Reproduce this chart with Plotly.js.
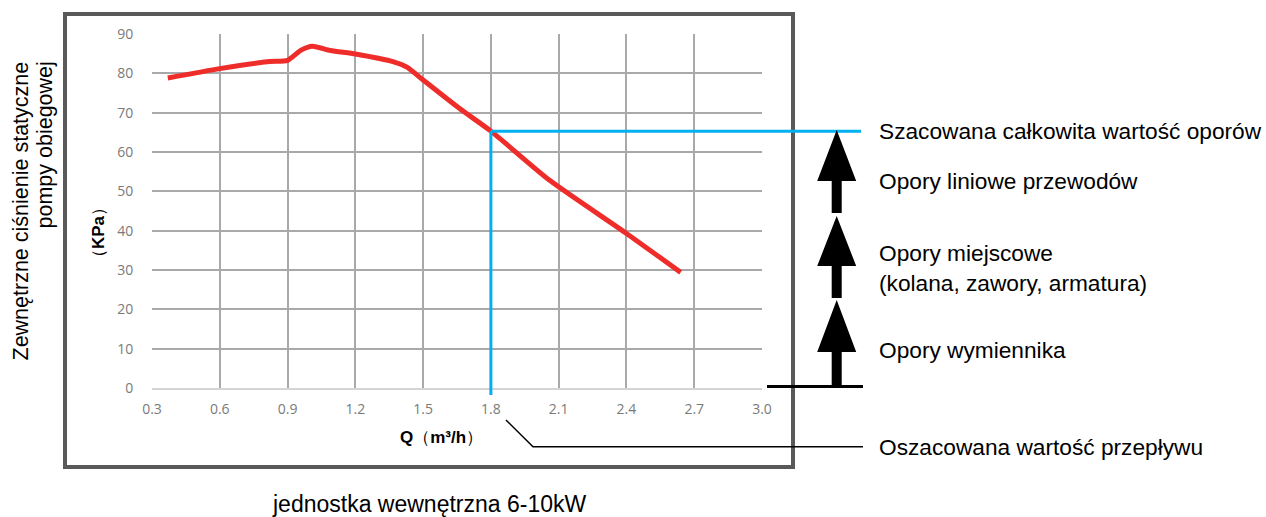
<!DOCTYPE html>
<html>
<head>
<meta charset="utf-8">
<script src="https://cdn.plot.ly/plotly-3.0.1.min.js"></script>
<style>
html,body{margin:0;padding:0;background:#fff;}
#chart{width:1266px;height:517px;}
</style>
</head>
<body>
<div id="chart"></div>
<script>
// ---- data ----
const flowQ = [0.37, 0.6, 0.82, 0.9, 0.96, 1.01, 1.09, 1.2, 1.37, 1.43, 1.5, 1.66, 1.8, 2.06, 2.4, 2.64];
const pressureKPa = [78.8, 81.2, 83.0, 83.3, 85.9, 86.9, 85.8, 84.9, 82.9, 81.5, 78.3, 71.1, 65.3, 52.8, 39.3, 29.4];
const xTickVals = [0.3, 0.6, 0.9, 1.2, 1.5, 1.8, 2.1, 2.4, 2.7, 3.0];
const xTickText = ["0.3", "0.6", "0.9", "1.2", "1.5", "1.8", "2.1", "2.4", "2.7", "3.0"];
const yTickVals = [0, 10, 20, 30, 40, 50, 60, 70, 80, 90];
const estimatedFlow = 1.8;
const estimatedResistance = 65.3;
const rightLabels = [
  "Szacowana całkowita wartość oporów",
  "Opory liniowe przewodów",
  "Opory miejscowe<br>(kolana, zawory, armatura)",
  "Opory wymiennika",
  "Oszacowana wartość przepływu"
];
const yTitleLines = ["Zewnętrzne ciśnienie statyczne", "pompy obiegowej"];
const unitY = "（<b>KPa</b>）";
const unitX = "<b>Q</b>（<b>m³/h</b>）";
const bottomCaption = "jednostka wewnętrzna 6-10kW";

// ---- layout helpers ----
const W = 1266, H = 517;
const M = {l: 152, r: 504, t: 34, b: 129};
const PW = W - M.l - M.r, PH = H - M.t - M.b;
const xRange = [0.3, 3.0], yRange = [0, 90];
const px = x => (x - M.l) / PW;
const py = y => (H - M.b - y) / PH;
const dx = v => (v - xRange[0]) / (xRange[1] - xRange[0]);
const dy = v => (v - yRange[0]) / (yRange[1] - yRange[0]);

const FONT = "Liberation Sans, Arial, sans-serif";
const black = "#000000";
const blue = "#00b0f0";

function arrowPath(tipY, baseY, shaftEndY) {
  const cx = 836.7, hw = 19.5, sw = 5;
  const pts = [
    [cx, tipY], [cx + hw, baseY], [cx + sw, baseY], [cx + sw, shaftEndY],
    [cx - sw, shaftEndY], [cx - sw, baseY], [cx - hw, baseY]
  ];
  return "M" + pts.map(p => px(p[0]).toFixed(5) + "," + py(p[1]).toFixed(5)).join(" L") + " Z";
}

const shapes = [
  {type: "rect", xref: "paper", yref: "paper", x0: px(65), x1: px(793), y0: py(14), y1: py(467),
   line: {color: "#595959", width: 4}, fillcolor: "rgba(0,0,0,0)"},
  {type: "line", xref: "paper", yref: "paper", x0: dx(estimatedFlow), x1: dx(estimatedFlow),
   y0: dy(estimatedResistance), y1: py(395), line: {color: blue, width: 3}},
  {type: "line", xref: "paper", yref: "paper", x0: dx(estimatedFlow), x1: px(861),
   y0: dy(estimatedResistance), y1: dy(estimatedResistance), line: {color: blue, width: 3}},
  {type: "line", xref: "paper", yref: "paper", x0: px(767), x1: px(863), y0: py(386.5), y1: py(386.5),
   line: {color: black, width: 3}},
  {type: "path", xref: "paper", yref: "paper", path: arrowPath(130, 181, 213), fillcolor: black, line: {width: 0}},
  {type: "path", xref: "paper", yref: "paper", path: arrowPath(216, 266, 298), fillcolor: black, line: {width: 0}},
  {type: "path", xref: "paper", yref: "paper", path: arrowPath(300, 352, 385), fillcolor: black, line: {width: 0}},
  {type: "path", xref: "paper", yref: "paper",
   path: "M" + px(506) + "," + py(420) + " L" + px(533) + "," + py(446.7) + " L" + px(863) + "," + py(446.7),
   line: {color: black, width: 1.5}}
];

const labelY = [131, 181, 268, 350, 447];
const annotations = rightLabels.map((t, i) => ({
  xref: "paper", yref: "paper", x: px(877), y: py(labelY[i]), xanchor: "left", yanchor: "middle",
  text: t, showarrow: false, align: "left", font: {family: FONT, size: 22.7, color: black}
}));
annotations.push(
  {xref: "paper", yref: "paper", x: px(20), y: py(60), xanchor: "center", yanchor: "top", textangle: -90,
   text: yTitleLines[0], showarrow: false, font: {family: FONT, size: 21.5, color: black}},
  {xref: "paper", yref: "paper", x: px(44), y: py(60), xanchor: "center", yanchor: "top", textangle: -90,
   text: yTitleLines[1], showarrow: false, font: {family: FONT, size: 21.5, color: black}},
  {xref: "paper", yref: "paper", x: px(98), y: py(233), xanchor: "center", yanchor: "middle", textangle: -90,
   text: unitY, showarrow: false, font: {family: FONT, size: 17, color: black}},
  {xref: "paper", yref: "paper", x: px(441), y: py(437), xanchor: "center", yanchor: "middle",
   text: unitX, showarrow: false, font: {family: FONT, size: 17, color: black}},
  {xref: "paper", yref: "paper", x: px(429), y: py(504), xanchor: "center", yanchor: "middle",
   text: bottomCaption, showarrow: false, font: {family: FONT, size: 23, color: black}}
);

const trace = {
  x: flowQ, y: pressureKPa, type: "scatter", mode: "lines",
  line: {color: "#ee2d2a", width: 5, shape: "spline", smoothing: 0.6},
  hoverinfo: "skip"
};

const layout = {
  width: W, height: H,
  margin: M,
  paper_bgcolor: "#ffffff", plot_bgcolor: "#ffffff",
  showlegend: false,
  xaxis: {
    range: xRange, tickvals: xTickVals, ticktext: xTickText,
    showgrid: true, gridcolor: "#a9a9a9", gridwidth: 2,
    zeroline: false, showline: true, linecolor: "#d4d4d4", linewidth: 2,
    ticks: "outside", ticklen: 7, tickcolor: "rgba(0,0,0,0)",
    tickfont: {family: "Open Sans, sans-serif", size: 14, color: "#7a7a7a"},
    fixedrange: true
  },
  yaxis: {
    range: yRange, tickvals: yTickVals,
    showgrid: true, gridcolor: "#a9a9a9", gridwidth: 2,
    zeroline: false, showline: false,
    ticks: "outside", ticklen: 15, tickcolor: "rgba(0,0,0,0)",
    tickfont: {family: "Open Sans, sans-serif", size: 14, color: "#7a7a7a"},
    fixedrange: true
  },
  shapes: shapes,
  annotations: annotations
};

Plotly.newPlot("chart", [trace], layout, {displayModeBar: false, staticPlot: true});
</script>
</body>
</html>
